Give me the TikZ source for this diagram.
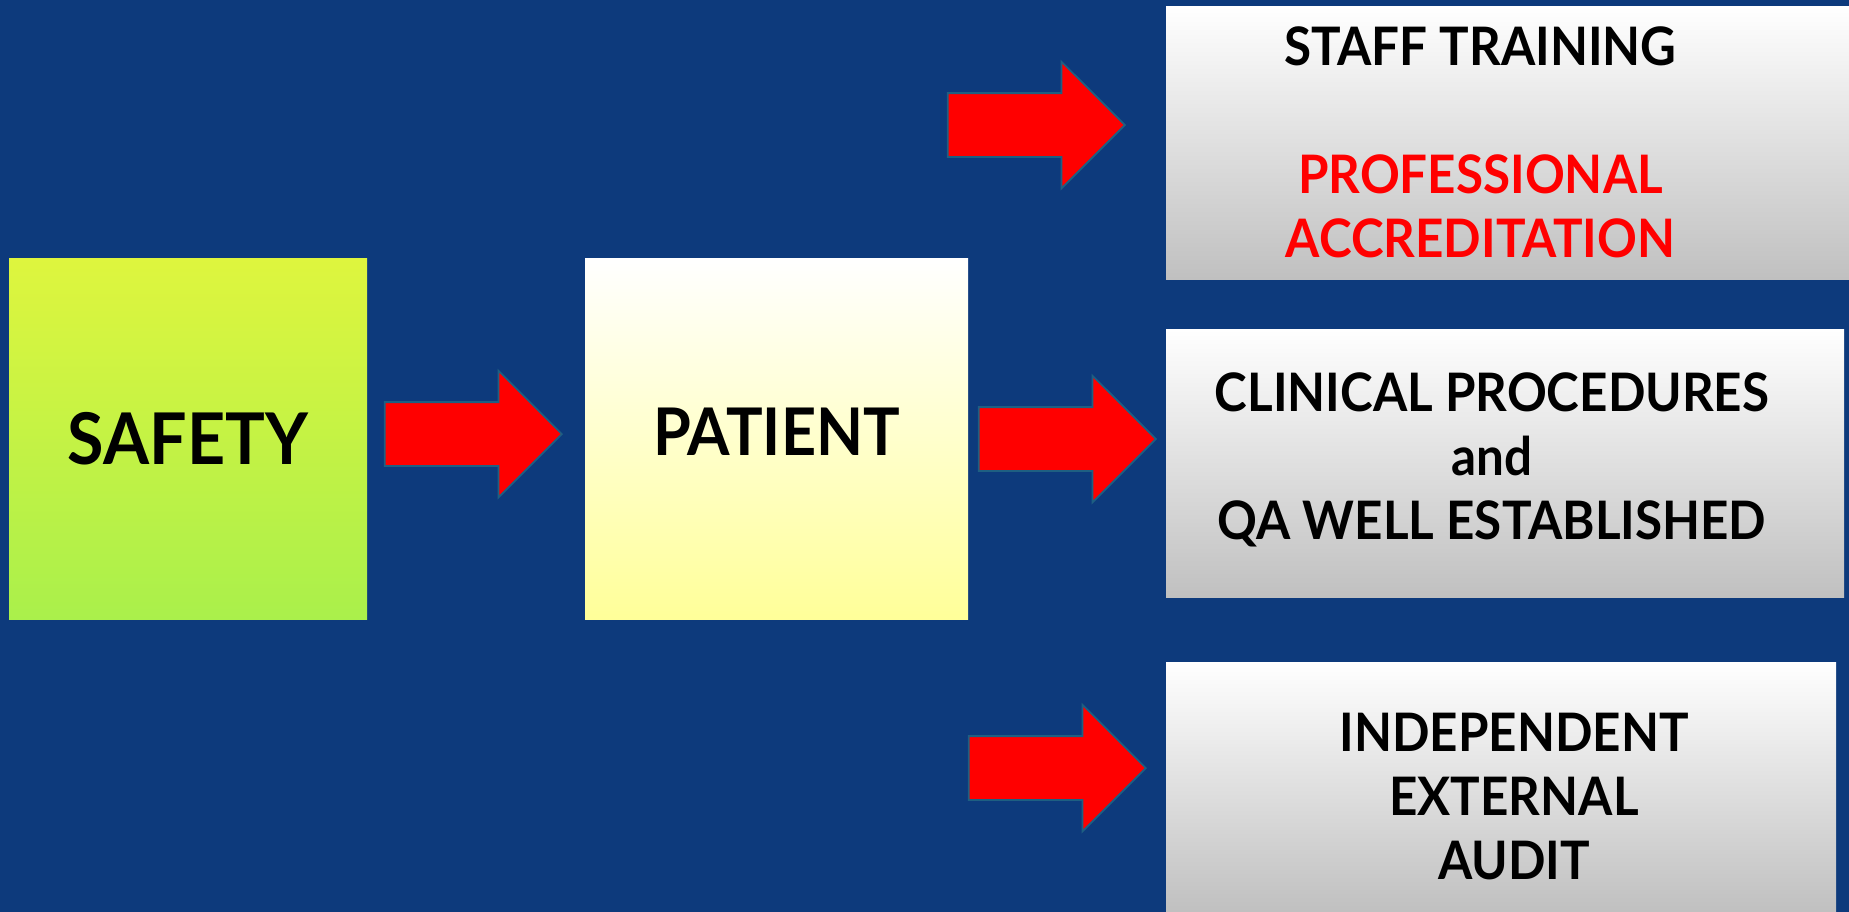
\documentclass[tikz,border=0pt]{standalone}
\usepackage{fontspec}
\setmainfont{Lato}[FakeStretch=0.93]
\usepackage{tikz}
\usetikzlibrary{shapes.arrows, positioning}

\definecolor{bgmid}{RGB}{13,58,124}
\definecolor{bgdark}{RGB}{10,38,92}
\definecolor{limetop}{RGB}{222,245,62}
\definecolor{limebot}{RGB}{170,240,75}
\definecolor{paleyel}{RGB}{255,255,153}
\definecolor{boxgrey}{RGB}{192,192,192}
\definecolor{arrowline}{RGB}{30,95,130}

\pgfdeclarehorizontalshading{slideback}{100bp}{color(0bp)=(bgdark); color(22bp)=(bgmid); color(78bp)=(bgmid); color(100bp)=(bgdark)}

\begin{document}
\begin{tikzpicture}[
            box/.style={rectangle, inner sep=0pt, align=center},
            bigbox/.style={box, minimum height=3.61cm, font=\bfseries\fontsize{20.3}{24}\selectfont},
            greybox/.style={box, top color=white, bottom color=boxgrey},
            boxtext/.style={align=center, inner sep=0pt, font=\bfseries\fontsize{15.1}{18.2}\selectfont},
            redarrow/.style={single arrow, single arrow head extend=0.315cm, inner xsep=0pt, inner ysep=0.31cm,
                minimum height=1.77cm, fill=red, draw=arrowline, line width=0.5pt, anchor=tip}
        ]
        % Background
        \useasboundingbox (0,0) rectangle (18.49,9.11);
        \shade [shading=slideback] (0,0) rectangle (18.49,9.11);

        % Left boxes
        \node (safety) at (1.88,4.725) [bigbox, minimum width=3.58cm, top color=limetop, bottom color=limebot] {SAFETY};
        \node (patient) at (7.765,4.725) [bigbox, minimum width=3.83cm, top color=white, bottom color=paleyel] {};
        \node (patienttext) at ([yshift=0.07cm]patient.center) [font=\bfseries\fontsize{18.7}{22}\selectfont] {PATIENT};

        % Right boxes
        \node (training) at (15.075,7.685) [greybox, minimum width=6.83cm, minimum height=2.73cm] {};
        \node (trainingtext) at ([xshift=-0.27cm]training.center) [boxtext]
            {STAFF TRAINING\\[18.2pt]\textcolor{red}{PROFESSIONAL}\\\textcolor{red}{ACCREDITATION}};
        \node (clinical) at (15.05,4.48) [greybox, minimum width=6.78cm, minimum height=2.68cm] {};
        \node (clinicaltext) at ([xshift=-0.13cm, yshift=0.03cm]clinical.center) [boxtext]
            {CLINICAL PROCEDURES\\and\\QA WELL ESTABLISHED};
        \node (audit) at (15.01,1.245) [greybox, minimum width=6.70cm, minimum height=2.49cm] {};
        \node (audittext) at ([xshift=0.13cm, yshift=-0.1cm]audit.center) [boxtext]
            {INDEPENDENT\\EXTERNAL\\AUDIT};

        % Arrows
        \node (arrow1) at (5.63,4.77) [redarrow] {};
        \node (arrow2) at (11.57,4.72) [redarrow] {};
        \node (arrow3) at (11.26,7.86) [redarrow] {};
        \node (arrow4) at (11.47,1.43) [redarrow] {};
        \end{tikzpicture}
\end{document}
